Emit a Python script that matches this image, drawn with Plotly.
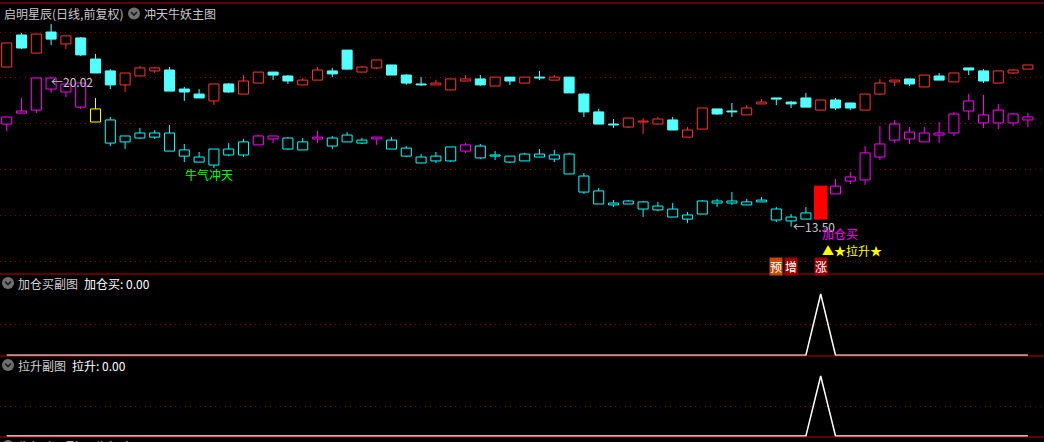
import plotly.graph_objects as go

# ---------------- data ----------------
stock_title = "启明星辰(日线,前复权)"
main_name = "冲天牛妖主图"
sub1_title = "加仓买副图"
sub1_value = "加仓买: 0.00"
sub2_title = "拉升副图"
sub2_value = "拉升: 0.00"
sub3_title = "牛气冲天副图  牛气冲天: 0.00"

bar_index = list(range(70))

# upper K-line (red hollow = up, cyan solid = down)
up_open = [20.47, 21.87, 21.08, 22.00, 21.48, 21.74, 20.82, 20.30, 19.69, 20.08,
           20.30, 20.34, 19.51, 19.29, 18.99, 19.73, 19.29, 19.77, 20.25, 20.08,
           19.69, 19.90, 20.30, 21.21, 20.25, 20.43, 20.56, 20.12, 19.73, 19.69,
           19.47, 19.86, 19.95, 19.64, 20.03, 19.77, 20.03, 19.90, 20.03, 19.29,
           18.51, 17.98, 17.85, 18.07, 17.98, 18.16, 17.41, 17.76, 18.64, 18.55,
           18.38, 18.86, 19.12, 18.94, 19.12, 18.59, 19.03, 18.90, 18.59, 19.29,
           19.82, 19.95, 19.60, 20.08, 19.82, 20.43, 20.30, 19.77, 20.21, 20.38]
up_high = [21.52, 21.96, 21.91, 22.35, 21.83, 21.78, 21.04, 20.38, 20.21, 20.52,
           20.47, 20.47, 19.60, 19.51, 19.73, 19.77, 20.12, 20.25, 20.25, 20.12,
           19.99, 20.47, 20.43, 21.21, 20.52, 20.78, 20.56, 20.17, 20.03, 19.90,
           19.95, 20.12, 20.12, 20.03, 20.03, 20.03, 20.30, 20.12, 20.03, 19.34,
           18.64, 18.20, 18.24, 18.24, 18.29, 18.29, 17.85, 18.68, 18.64, 18.90,
           18.81, 19.07, 19.12, 18.99, 19.34, 19.03, 19.12, 18.90, 19.29, 19.95,
           19.90, 19.95, 20.12, 20.21, 20.21, 20.43, 20.38, 20.30, 20.38, 20.56]
up_low = [20.47, 21.26, 21.08, 21.43, 21.26, 20.95, 20.21, 19.51, 19.38, 20.08,
          20.21, 19.42, 18.99, 19.12, 18.81, 19.34, 19.29, 19.77, 19.90, 19.73,
          19.69, 19.90, 20.03, 20.34, 20.25, 20.38, 20.12, 19.69, 19.64, 19.69,
          19.47, 19.86, 19.64, 19.64, 19.69, 19.77, 19.90, 19.90, 19.34, 18.29,
          17.98, 17.81, 17.81, 17.55, 17.98, 17.72, 17.41, 17.76, 18.38, 18.29,
          18.38, 18.86, 18.81, 18.68, 18.72, 18.59, 18.59, 18.59, 18.59, 19.25,
          19.64, 19.64, 19.60, 19.90, 19.82, 20.12, 19.77, 19.77, 20.17, 20.38]
up_close = [21.52, 21.30, 21.91, 21.69, 21.83, 21.00, 20.21, 19.69, 20.21, 20.43,
            20.43, 19.42, 19.38, 19.12, 19.73, 19.38, 19.86, 20.25, 20.12, 19.86,
            19.90, 20.34, 20.17, 20.38, 20.47, 20.78, 20.12, 19.77, 19.69, 19.77,
            19.95, 19.95, 19.69, 20.03, 19.86, 20.03, 19.99, 20.03, 19.34, 18.51,
            17.98, 17.94, 18.24, 18.11, 18.20, 17.72, 17.72, 18.68, 18.42, 18.51,
            18.68, 18.94, 19.07, 18.86, 18.72, 19.03, 18.68, 18.68, 19.29, 19.77,
            19.90, 19.73, 20.12, 19.90, 20.21, 20.34, 19.86, 20.30, 20.34, 20.56]

# lower (main price) K-line, coloured by state
k_open = [17.98, 18.46, 18.59, 19.51, 19.38, 18.72, 18.64, 18.16, 17.46, 17.59,
          17.59, 17.59, 16.85, 16.54, 16.89, 16.89, 17.20, 17.07, 17.33, 17.37,
          17.20, 17.33, 17.37, 17.50, 17.28, 17.33, 17.28, 16.93, 16.54, 16.58,
          16.98, 16.80, 17.02, 16.63, 16.58, 16.67, 16.67, 16.63, 16.67, 15.71,
          15.06, 14.53, 14.62, 14.58, 14.40, 14.27, 14.01, 14.62, 14.62, 14.62,
          14.58, 14.66, 14.27, 13.92, 14.10, 13.83, 14.93, 15.49, 15.54, 16.54,
          17.28, 17.33, 17.20, 17.50, 17.59, 18.55, 18.03, 18.03, 18.03, 18.16]
k_high = [18.29, 19.12, 20.00, 20.02, 19.73, 19.77, 19.12, 18.29, 17.46, 17.81,
          17.72, 17.94, 17.11, 16.76, 16.89, 17.15, 17.33, 17.50, 17.46, 17.41,
          17.37, 17.68, 17.46, 17.63, 17.37, 17.41, 17.41, 17.02, 16.67, 16.76,
          16.98, 17.15, 17.11, 16.80, 16.58, 16.72, 16.89, 16.85, 16.72, 15.84,
          15.19, 14.66, 14.66, 14.62, 14.58, 14.53, 14.14, 14.66, 14.71, 15.01,
          14.71, 14.79, 14.36, 14.05, 14.36, 15.27, 15.58, 15.89, 17.02, 17.89,
          18.16, 17.85, 17.85, 18.07, 18.51, 19.29, 19.25, 18.86, 18.46, 18.46]
k_low = [17.68, 18.46, 18.46, 19.34, 19.16, 18.64, 18.07, 17.02, 16.89, 17.33,
         17.33, 16.80, 16.32, 16.32, 16.06, 16.58, 16.54, 17.07, 17.15, 16.85,
         16.85, 17.15, 16.89, 17.20, 17.11, 17.07, 16.89, 16.54, 16.28, 16.28,
         16.32, 16.72, 16.45, 16.41, 16.28, 16.37, 16.54, 16.32, 15.80, 14.93,
         14.49, 14.36, 14.49, 13.92, 14.18, 13.92, 13.66, 14.05, 14.36, 14.45,
         14.45, 14.58, 13.70, 13.50, 13.83, 13.83, 14.93, 15.36, 15.32, 16.41,
         17.15, 17.11, 17.20, 17.15, 17.46, 18.16, 17.81, 17.76, 17.89, 17.85]
k_close = [18.29, 18.55, 19.99, 19.99, 19.73, 19.77, 18.07, 17.15, 17.20, 17.37,
           17.41, 16.80, 16.58, 16.32, 16.19, 16.63, 16.63, 17.46, 17.46, 16.89,
           16.85, 17.41, 17.02, 17.20, 17.15, 17.41, 16.89, 16.58, 16.28, 16.37,
           16.37, 17.07, 16.50, 16.58, 16.32, 16.37, 16.54, 16.45, 15.80, 15.01,
           14.49, 14.45, 14.49, 14.27, 14.23, 13.92, 13.83, 14.05, 14.53, 14.53,
           14.45, 14.58, 13.79, 13.75, 13.83, 15.27, 15.27, 15.67, 16.72, 17.11,
           17.98, 17.63, 17.59, 17.59, 18.42, 18.99, 18.38, 18.59, 18.42, 18.29]
# m = magenta, c = cyan, y = yellow, r = red solid
k_state = "mmmmmmy" + "cccccccccc" + "mm" + "cc" + "m" + "ccc" + "m" + "ccccc" + "m" \
          + "ccccccccccccccccccccccc" + "r" + "mmmmmmmmmmmmmm"

# sub-chart signals
jiacang = [0, 0, 0, 0, 0, 0, 0, 0, 0, 0, 0, 0, 0, 0, 0, 0, 0, 0, 0, 0,
           0, 0, 0, 0, 0, 0, 0, 0, 0, 0, 0, 0, 0, 0, 0, 0, 0, 0, 0, 0,
           0, 0, 0, 0, 0, 0, 0, 0, 0, 0, 0, 0, 0, 0, 0, 1, 0, 0, 0, 0,
           0, 0, 0, 0, 0, 0, 0, 0, 0, 0]
lasheng = [0, 0, 0, 0, 0, 0, 0, 0, 0, 0, 0, 0, 0, 0, 0, 0, 0, 0, 0, 0,
           0, 0, 0, 0, 0, 0, 0, 0, 0, 0, 0, 0, 0, 0, 0, 0, 0, 0, 0, 0,
           0, 0, 0, 0, 0, 0, 0, 0, 0, 0, 0, 0, 0, 0, 0, 1, 0, 0, 0, 0,
           0, 0, 0, 0, 0, 0, 0, 0, 0, 0]

# text signals on main chart: (index, price, text)
bull_sig = (12, 15.76, "牛气冲天")
add_sig = (55, 13.18, "加仓买")
rise_sig = (55, 12.48, "▲★拉升★")
tag_sigs = [(52, 11.76, "预", "#c44a08"), (53, 11.76, "增", "#a00000"), (55, 11.76, "涨", "#a00000")]

price_grid = [12, 14, 16, 18, 20, 22]

# ---------------- styling ----------------
W, H = 1044, 442
FONT = "Noto Sans CJK SC"
RED_UP = "#ff3232"
CYAN_DN = "#54ffff"
STATE_COL = {"m": "#ff00ff", "c": "#00ffff", "y": "#ffff00", "r": "#ff0000"}
BORDER = "#c00000"
GRID = "#8c0000"


def px(x):
    return x / W


def py(y):
    return 1 - y / H


fig = go.Figure()


def add_candles(idx, o, h, l, c, color, filled, width, yaxis):
    if not idx:
        return
    tops = [max(o[i], c[i]) for i in idx]
    bots = [min(o[i], c[i]) for i in idx]
    wx, wy = [], []
    for k, i in enumerate(idx):
        if h[i] > tops[k]:
            wx += [i, i, None]
            wy += [h[i], tops[k], None]
        if l[i] < bots[k]:
            wx += [i, i, None]
            wy += [bots[k], l[i], None]
    fig.add_trace(go.Bar(
        x=idx, y=[t - b for t, b in zip(tops, bots)], base=bots, width=width,
        marker=dict(color=color if filled else "#000000",
                    line=dict(color=color, width=1)),
        xaxis="x", yaxis=yaxis, showlegend=False, hoverinfo="skip"))
    fig.add_trace(go.Scatter(
        x=wx, y=wy, mode="lines", line=dict(color=color, width=1),
        xaxis="x", yaxis=yaxis, showlegend=False, hoverinfo="skip"))


# upper series
ups = [i for i in bar_index if up_close[i] >= up_open[i]]
dns = [i for i in bar_index if up_close[i] < up_open[i]]
add_candles(ups, up_open, up_high, up_low, up_close, RED_UP, False, 0.68, "y")
add_candles(dns, up_open, up_high, up_low, up_close, CYAN_DN, True, 0.68, "y")

# lower series by state
for s, col in STATE_COL.items():
    idx = [i for i in bar_index if k_state[i] == s]
    add_candles(idx, k_open, k_high, k_low, k_close, col, s == "r",
                0.85 if s == "r" else 0.68, "y")

# sub charts
fig.add_trace(go.Scatter(x=bar_index, y=jiacang, mode="lines",
                         line=dict(color="#ffffff", width=1.5),
                         xaxis="x2", yaxis="y2", showlegend=False, hoverinfo="skip"))
fig.add_trace(go.Scatter(x=bar_index, y=lasheng, mode="lines",
                         line=dict(color="#ffffff", width=1.5),
                         xaxis="x3", yaxis="y3", showlegend=False, hoverinfo="skip"))

# ---------------- axes ----------------
x_range = [-6.7 / 14.8, (W - 6.7) / 14.8]
xcommon = dict(range=x_range, visible=False, fixedrange=True)
ycommon = dict(showticklabels=False, ticks="", showline=False, zeroline=False,
               showgrid=True, gridcolor=GRID, griddash="1px,4px", gridwidth=1,
               fixedrange=True)


# price <-> pixel: 22.9 px per 1.0, price 22 at y=32
def price_at(ypix):
    return 22 - (ypix - 32) / 22.9


fig.update_layout(
    width=W, height=H,
    margin=dict(l=0, r=0, t=0, b=0),
    paper_bgcolor="#000000", plot_bgcolor="#000000",
    barmode="overlay", bargap=0,
    xaxis=dict(domain=[0, 1], anchor="y", **xcommon),
    xaxis2=dict(domain=[0, 1], anchor="y2", **xcommon),
    xaxis3=dict(domain=[0, 1], anchor="y3", **xcommon),
    yaxis=dict(domain=[py(274), py(3)], anchor="x",
               range=[price_at(274), price_at(3)], tickvals=price_grid, **ycommon),
    yaxis2=dict(domain=[py(356), py(274)], anchor="x2",
                range=[-0.7 / 61.3, 81.3 / 61.3], tickvals=[0.5], **ycommon),
    yaxis3=dict(domain=[py(437), py(356)], anchor="x3",
                range=[-1 / 60, 80 / 60], tickvals=[0.5], **ycommon),
    font=dict(family=FONT, size=12, color="#c0c0c0"),
)

# ---------------- decorations ----------------
shapes = []
for yy in [3, 274, 356, 437]:
    shapes.append(dict(type="line", xref="paper", yref="paper", x0=0, x1=1,
                       y0=py(yy), y1=py(yy), line=dict(color=BORDER, width=1)))


def icon(cx, cy):
    shapes.append(dict(type="circle", xref="paper", yref="paper",
                       x0=px(cx - 6), x1=px(cx + 6), y0=py(cy + 6), y1=py(cy - 6),
                       fillcolor="#707070", line=dict(width=0)))
    shapes.append(dict(type="path", xref="paper", yref="paper",
                       path=f"M {px(cx-3)} {py(cy-1.5)} L {px(cx)} {py(cy+1.5)} L {px(cx+3)} {py(cy-1.5)}",
                       line=dict(color="#1a1a1a", width=1.6)))


icon(134, 13.5)
icon(8, 283)
icon(8, 365)
icon(8, 446)
fig.update_layout(shapes=shapes)

ann = []


def ptext(x, y, text, color, anchor="left", size=12):
    ann.append(dict(xref="paper", yref="paper", x=px(x), y=py(y), text=text,
                    showarrow=False, xanchor=anchor, yanchor="middle",
                    font=dict(family=FONT, size=size, color=color)))


ptext(2, 13, stock_title, "#c8c8c8")
ptext(142, 13, main_name, "#c8c8c8")
ptext(16, 283, sub1_title, "#d0d0d0")
ptext(82, 283, sub1_value, "#ffffff")
ptext(16, 365, sub2_title, "#d0d0d0")
ptext(70, 365, sub2_value, "#ffffff")
ptext(16, 446, sub3_title, "#d0d0d0")

# max / min labels of price K-line
imax = max(bar_index, key=lambda i: k_high[i])
imin = min(bar_index, key=lambda i: k_low[i])
ann.append(dict(x=imax, y=k_high[imax], xref="x", yref="y", text=f"←{k_high[imax]:.2f}",
                showarrow=False, xanchor="left", yanchor="top", xshift=-2, yshift=6,
                font=dict(family=FONT, size=12, color="#c8c8c8")))
ann.append(dict(x=imin, y=k_low[imin], xref="x", yref="y", text=f"←{k_low[imin]:.2f}",
                showarrow=False, xanchor="left", yanchor="middle", yshift=0,
                font=dict(family=FONT, size=12, color="#c8c8c8")))

for (i, p, t), col in [(bull_sig, "#00ff00"), (add_sig, "#ff00ff"), (rise_sig, "#ffff00")]:
    ann.append(dict(x=i, y=p, xref="x", yref="y", text=t, showarrow=False,
                    xanchor="left", yanchor="middle", xshift=-1,
                    font=dict(family=FONT, size=12, color=col)))
for i, p, t, bg in tag_sigs:
    ann.append(dict(x=i, y=p, xref="x", yref="y", text=t, showarrow=False,
                    xanchor="center", yanchor="middle", bgcolor=bg, borderpad=0,
                    font=dict(family=FONT, size=12, color="#ffffff")))

fig.update_layout(annotations=ann)

fig.write_html(
    "out.html",
    config={"displayModeBar": False, "staticPlot": True},
    post_script="document.body.style.margin='0';document.body.style.padding='0';"
                "document.body.style.overflow='hidden';"
                "document.body.style.background='#000';",
)
